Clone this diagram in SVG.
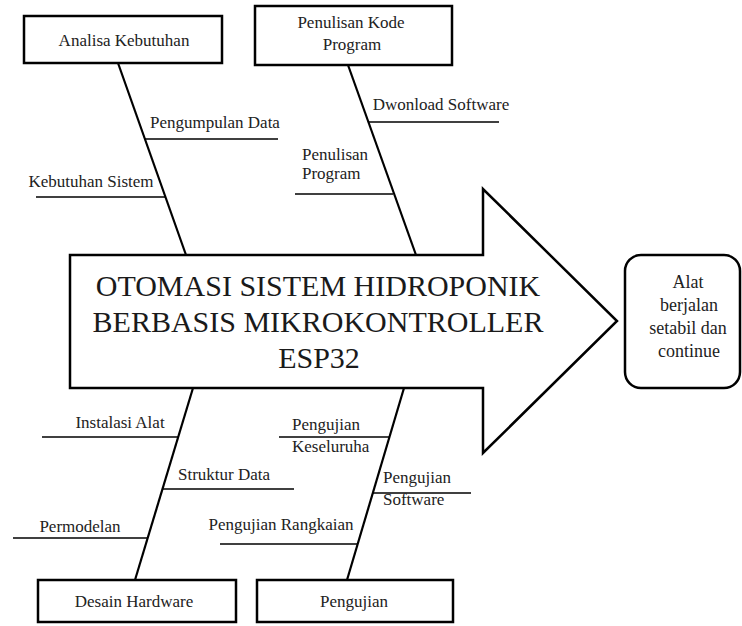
<svg xmlns="http://www.w3.org/2000/svg" width="742" height="626" viewBox="0 0 742 626">
<rect width="742" height="626" fill="#fff"/>
<g id="head">
<polygon fill="#fff" stroke="#000" stroke-width="2.5" points="70,255 483,255 483,189 617,321 483,453 483,388 70,388"/>
<text font-family="Liberation Serif" font-size="30" fill="#1a1a1a" text-anchor="middle" x="318" y="296">OTOMASI SISTEM HIDROPONIK</text>
<text font-family="Liberation Serif" font-size="30" fill="#1a1a1a" text-anchor="middle" x="318" y="332">BERBASIS MIKROKONTROLLER</text>
<text font-family="Liberation Serif" font-size="30" fill="#1a1a1a" text-anchor="middle" x="319" y="368">ESP32</text>
</g>
<g id="result">
<rect fill="#fff" stroke="#000" stroke-width="2.5" x="625" y="255" width="115" height="133" rx="16"/>
<text font-family="Liberation Serif" font-size="18" fill="#222" text-anchor="middle" x="688" y="288">Alat</text>
<text font-family="Liberation Serif" font-size="18" fill="#222" text-anchor="middle" x="689" y="311">berjalan</text>
<text font-family="Liberation Serif" font-size="18" fill="#222" text-anchor="middle" x="688" y="334">setabil dan</text>
<text font-family="Liberation Serif" font-size="18" fill="#222" text-anchor="middle" x="689" y="357">continue</text>
</g>
<g id="connectors" stroke="#000" fill="none">
<g stroke-width="2.2">
<line x1="118" y1="63" x2="186" y2="255"/>
<line x1="348" y1="65" x2="416" y2="255"/>
<line x1="193" y1="388" x2="135" y2="580"/>
<line x1="404" y1="388" x2="347" y2="580"/>
</g>
<g stroke-width="1.5">
<line x1="145" y1="139" x2="278" y2="139"/>
<line x1="36" y1="197" x2="165" y2="197"/>
<line x1="368" y1="122" x2="499" y2="122"/>
<line x1="295" y1="194" x2="393" y2="194"/>
<line x1="42" y1="437" x2="178" y2="437"/>
<line x1="163" y1="489" x2="294" y2="489"/>
<line x1="13" y1="538" x2="148" y2="538"/>
<line x1="279" y1="437" x2="390" y2="437"/>
<line x1="373" y1="493" x2="471" y2="493"/>
<line x1="220" y1="544" x2="357" y2="544"/>
</g>
</g>
<g id="labels">
<text font-family="Liberation Serif" font-size="17" fill="#222" text-anchor="middle" x="215" y="128">Pengumpulan Data</text>
<text font-family="Liberation Serif" font-size="17" fill="#222" text-anchor="middle" x="91" y="187">Kebutuhan Sistem</text>
<text font-family="Liberation Serif" font-size="17" fill="#222" text-anchor="middle" x="441" y="110">Dwonload Software</text>
<text font-family="Liberation Serif" font-size="17" fill="#222" x="302" y="160">Penulisan</text>
<text font-family="Liberation Serif" font-size="17" fill="#222" x="302" y="179">Program</text>
<text font-family="Liberation Serif" font-size="17" fill="#222" text-anchor="middle" x="120" y="428">Instalasi Alat</text>
<text font-family="Liberation Serif" font-size="17" fill="#222" text-anchor="middle" x="224" y="480">Struktur Data</text>
<text font-family="Liberation Serif" font-size="17" fill="#222" text-anchor="middle" x="80" y="532">Permodelan</text>
<text font-family="Liberation Serif" font-size="17" fill="#222" x="292" y="430">Pengujian</text>
<text font-family="Liberation Serif" font-size="17" fill="#222" x="292" y="452">Keseluruha</text>
<text font-family="Liberation Serif" font-size="17" fill="#222" x="383" y="483">Pengujian</text>
<text font-family="Liberation Serif" font-size="17" fill="#222" x="383" y="505">Software</text>
<text font-family="Liberation Serif" font-size="17" fill="#222" text-anchor="middle" x="281" y="530">Pengujian Rangkaian</text>
</g>
<g id="analisa">
<rect fill="#fff" stroke="#000" stroke-width="2.5" x="24" y="16" width="198" height="47"/>
<text font-family="Liberation Serif" font-size="17" fill="#222" text-anchor="middle" x="124" y="46">Analisa Kebutuhan</text>
</g>
<g id="penulisan">
<rect fill="#fff" stroke="#000" stroke-width="2.5" x="255" y="6" width="197" height="59"/>
<text font-family="Liberation Serif" font-size="17" fill="#222" text-anchor="middle" x="351" y="28">Penulisan Kode</text>
<text font-family="Liberation Serif" font-size="17" fill="#222" text-anchor="middle" x="352" y="50">Program</text>
</g>
<g id="desain">
<rect fill="#fff" stroke="#000" stroke-width="2.5" x="38" y="580" width="198" height="42"/>
<text font-family="Liberation Serif" font-size="17" fill="#222" text-anchor="middle" x="134" y="607">Desain Hardware</text>
</g>
<g id="pengujian">
<rect fill="#fff" stroke="#000" stroke-width="2.5" x="257" y="580" width="196" height="42"/>
<text font-family="Liberation Serif" font-size="17" fill="#222" text-anchor="middle" x="354" y="607">Pengujian</text>
</g>
</svg>
